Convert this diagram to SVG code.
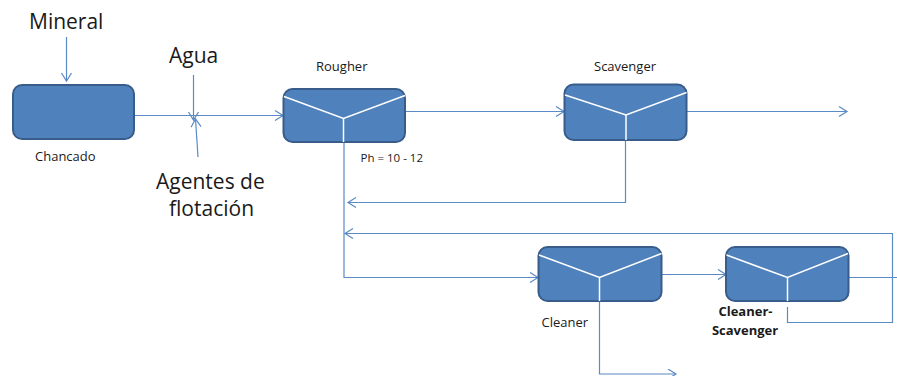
<svg xmlns="http://www.w3.org/2000/svg" width="897" height="376" viewBox="0 0 897 376">
  <style>
    .box { fill: #4f81bd; stroke: #385d8a; stroke-width: 2; }
    .inner { fill: none; stroke: #ffffff; stroke-width: 1.5; }
    .flow { fill: none; stroke: #5b8ac6; stroke-width: 1.2; }
    .lbl { font-family: "Open Sans", "Liberation Sans", sans-serif; fill: #1a1a1a; }
    .big { font-size: 21px; }
    .small { font-size: 13px; }
    .tiny { font-size: 11.5px; }
    .bold { font-weight: bold; font-size: 13px; }
  </style>
  <defs>
    <marker id="arrow" markerUnits="userSpaceOnUse" markerWidth="12" markerHeight="12" refX="9" refY="5.5" orient="auto">
      <path d="M1,0.5 L9,5.5 L1,10.5" fill="none" stroke="#5b8ac6" stroke-width="1.2"/>
    </marker>
  </defs>

  <rect width="897" height="376" fill="#ffffff"/>

  <!-- connectors -->
  <g id="connectors">
    <line class="flow" x1="66.5" y1="37" x2="66.5" y2="81" marker-end="url(#arrow)"/>
    <line class="flow" x1="134" y1="115.5" x2="283" y2="115.5" marker-end="url(#arrow)"/>
    <line class="flow" x1="193.5" y1="75" x2="193.5" y2="120" marker-end="url(#arrow)"/>
    <line class="flow" x1="198" y1="157" x2="195.5" y2="119" marker-end="url(#arrow)"/>
    <line class="flow" x1="405" y1="111.5" x2="564" y2="111.5" marker-end="url(#arrow)"/>
    <line class="flow" x1="687" y1="111.5" x2="847" y2="111.5" marker-end="url(#arrow)"/>
    <polyline class="flow" points="625.5,140 625.5,202.5 348,202.5" marker-end="url(#arrow)"/>
    <polyline class="flow" points="344,142 344,277.5 538,277.5" marker-end="url(#arrow)"/>
    <line class="flow" x1="662" y1="274.5" x2="726" y2="274.5" marker-end="url(#arrow)"/>
    <polyline class="flow" points="787.5,307 787.5,322.5 892.5,322.5 892.5,233.5 345,233.5" marker-end="url(#arrow)"/>
    <line class="flow" x1="848" y1="277.5" x2="897" y2="277.5"/>
    <polyline class="flow" points="599.5,301 599.5,374 676,374" marker-end="url(#arrow)"/>
  </g>

  <!-- feed labels -->
  <g id="mineral">
    <text class="lbl big" x="29" y="29">Mineral</text>
  </g>
  <g id="agua">
    <text class="lbl big" x="169" y="63">Agua</text>
  </g>
  <g id="agentes">
    <text class="lbl big" x="156" y="189">Agentes de</text>
    <text class="lbl big" x="169" y="216">flotación</text>
  </g>

  <!-- crushing -->
  <g id="chancado">
    <rect class="box" x="13" y="85" width="121" height="54" rx="9"/>
    <text class="lbl small" x="35" y="161">Chancado</text>
  </g>

  <!-- flotation cells -->
  <g id="rougher">
    <rect class="box" x="283.5" y="89" width="121.5" height="53" rx="9"/>
    <polyline class="inner" points="284,96.5 343.5,118.5 405,95.5"/>
    <line class="inner" x1="343.5" y1="118.5" x2="343.5" y2="142"/>
    <text class="lbl small" x="316" y="71">Rougher</text>
    <text class="lbl tiny" x="360.5" y="162">Ph = 10 - 12</text>
  </g>

  <g id="scavenger">
    <rect class="box" x="564.5" y="84.5" width="122" height="55.5" rx="9"/>
    <polyline class="inner" points="565,95 626,115 686.5,92.5"/>
    <line class="inner" x1="626" y1="115" x2="626" y2="140"/>
    <text class="lbl small" x="594" y="71">Scavenger</text>
  </g>

  <g id="cleaner">
    <rect class="box" x="538.5" y="247" width="123" height="54" rx="9"/>
    <polyline class="inner" points="539,255 599.5,277.5 661.5,253.5"/>
    <line class="inner" x1="599.5" y1="277.5" x2="599.5" y2="301"/>
    <text class="lbl small" x="541.5" y="327">Cleaner</text>
  </g>

  <g id="cleaner-scavenger">
    <rect class="box" x="726" y="247" width="122.5" height="54" rx="9"/>
    <polyline class="inner" points="726.5,255 787.5,277.5 848,253.5"/>
    <line class="inner" x1="787.5" y1="277.5" x2="787.5" y2="301"/>
    <text class="lbl bold" x="745.5" y="316" text-anchor="middle">Cleaner-</text>
    <text class="lbl bold" x="745" y="335" text-anchor="middle">Scavenger</text>
  </g>
</svg>
